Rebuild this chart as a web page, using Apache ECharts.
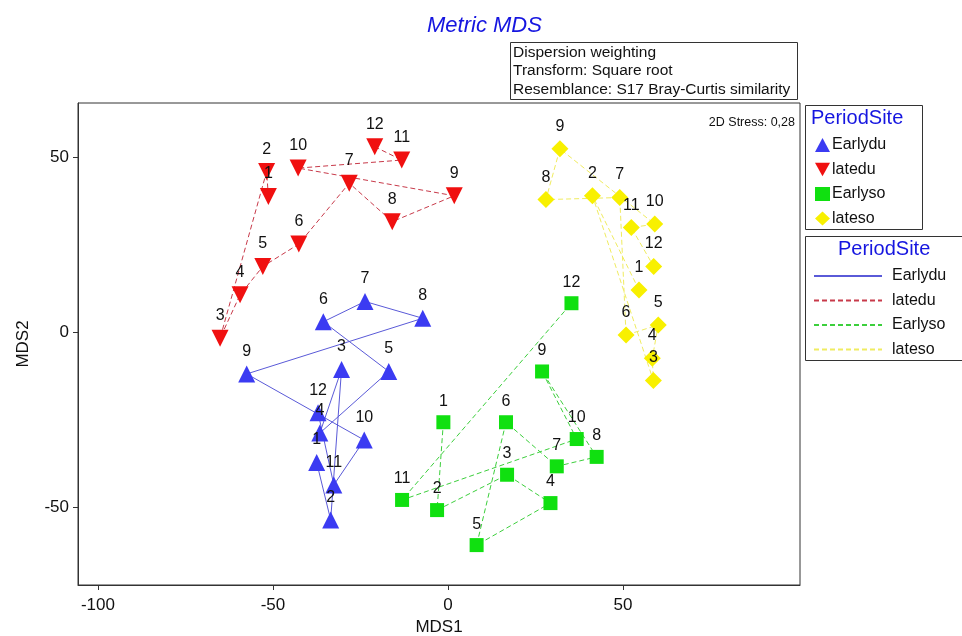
<!DOCTYPE html>
<html>
<head>
<meta charset="utf-8">
<script src="https://cdn.jsdelivr.net/npm/echarts@6/dist/echarts.min.js"></script>
<style>html,body{margin:0;padding:0;background:#fff}#c{width:962px;height:636px}</style>
</head>
<body>
<div id="c"></div>
<script>
const sampleLabels = ['1','2','3','4','5','6','7','8','9','10','11','12'];
const groupNames = ['Earlydu','latedu','Earlyso','lateso'];
const xTicks = [-100, -50, 0, 50];
const yTicks = [-50, 0, 50];

const earlyduX = [-37.5, -33.5, -30.4, -36.6, -16.9, -35.6, -23.7, -7.2, -57.5, -23.9, -32.6, -37.1];
const earlyduY = [-37.3, -53.7, -10.7, -28.9, -11.3, 2.9, 8.7, 3.9, -12.0, -30.9, -43.7, -23.1];
const lateduX = [-51.3, -51.8, -65.1, -59.4, -52.9, -42.6, -28.2, -15.9, 1.8, -42.8, -13.2, -20.9];
const lateduY = [38.7, 45.8, -1.8, 10.6, 18.7, 25.1, 42.5, 31.5, 38.9, 46.8, 49.1, 52.9];
const earlysoX = [-1.3, -3.1, 16.9, 29.3, 8.2, 16.6, 31.1, 42.5, 26.9, 36.8, -13.1, 35.3];
const earlysoY = [-25.8, -50.9, -40.8, -48.9, -60.9, -25.8, -38.4, -35.7, -11.3, -30.6, -48.0, 8.2];
const latesoX = [54.6, 41.3, 58.7, 58.4, 60.1, 50.9, 49.1, 28.0, 32.0, 59.1, 52.4, 58.8];
const latesoY = [12.0, 38.9, -13.9, -7.5, 2.0, -0.9, 38.4, 37.8, 52.3, 30.8, 29.8, 18.7];

const xs = [earlyduX, lateduX, earlysoX, latesoX];
const ys = [earlyduY, lateduY, earlysoY, latesoY];

const markerColors = ['#3b3bf2', '#f01010', '#10e010', '#f8f000'];
const lineColors = ['#5a5ad8', '#c83a4a', '#3ccf3c', '#f0ec60'];
const lineTypes = ['solid', [5, 3], [5, 3], [5, 3]];
const symbols = ['triangle', 'triangle', 'rect', 'diamond'];
const rotates = [0, 180, 0, 0];
const sizes = [17, 17, 14, 17];
const legendIcons = ['triangle', 'path://M0,0 L10,0 L5,9 Z', 'rect', 'diamond'];

function pts(g) {
  return sampleLabels.map((lab, i) => [xs[g][i], ys[g][i], lab]);
}

const FONT = 'Liberation Sans, Arial, sans-serif';
const series = [];
groupNames.forEach((name, g) => {
  series.push({
    name: name + ' ',
    type: 'line',
    data: pts(g),
    symbol: 'none',
    z: 2,
    silent: true,
    animation: false,
    lineStyle: { color: lineColors[g], width: 1, type: lineTypes[g] },
    itemStyle: { color: lineColors[g] }
  });
});
groupNames.forEach((name, g) => {
  series.push({
    name: name,
    type: 'scatter',
    data: pts(g),
    symbol: symbols[g],
    symbolRotate: rotates[g],
    symbolSize: sizes[g],
    z: 3,
    animation: false,
    itemStyle: { color: markerColors[g], opacity: 1 },
    label: {
      show: true, position: 'top', distance: 6,
      formatter: p => p.value[2],
      color: '#111', fontSize: 16, fontFamily: FONT
    }
  });
});

const chart = echarts.init(document.getElementById('c'));
chart.setOption({
  backgroundColor: '#fff',
  animation: false,
  grid: { left: 78, right: 162, top: 103, bottom: 51, outerBoundsMode: 'none', containLabel: false, show: true, borderColor: '#333', borderWidth: 1, backgroundColor: 'transparent' },
  xAxis: {
    type: 'value', min: -105.7, max: 100.6,
    name: 'MDS1', nameLocation: 'middle', nameGap: 32,
    nameTextStyle: { color: '#111', fontSize: 17, fontFamily: FONT },
    axisLine: { show: true, onZero: false, lineStyle: { color: '#333' } },
    axisTick: { show: true, length: 5, customValues: xTicks, lineStyle: { color: '#333' } },
    axisLabel: { customValues: xTicks, color: '#111', fontSize: 17, fontFamily: FONT, margin: 12 },
    splitLine: { show: false }
  },
  yAxis: {
    type: 'value', min: -72.3, max: 65.4,
    name: 'MDS2', nameLocation: 'middle', nameGap: 46, nameRotate: 90,
    nameTextStyle: { color: '#111', fontSize: 17, fontFamily: FONT },
    axisLine: { show: true, onZero: false, lineStyle: { color: '#333' } },
    axisTick: { show: true, length: 5, customValues: yTicks, lineStyle: { color: '#333' } },
    axisLabel: { customValues: yTicks, color: '#111', fontSize: 17, fontFamily: FONT, margin: 9 },
    splitLine: { show: false }
  },
  legend: [
    {
      data: groupNames.map((n, g) => ({ name: n, icon: legendIcons[g] })),
      orient: 'vertical', left: 810, top: 132, itemWidth: 15, itemHeight: 14, itemGap: 8.5,
      selectedMode: false,
      textStyle: { color: '#111', fontSize: 16, fontFamily: FONT, padding: [0, 0, 0, -3] }
    },
    {
      data: groupNames.map(n => n + ' '),
      orient: 'vertical', left: 808, top: 263, itemWidth: 68, itemHeight: 14, itemGap: 8.5,
      selectedMode: false,
      itemStyle: { opacity: 0 },
      textStyle: { color: '#111', fontSize: 16, fontFamily: FONT, padding: [0, 0, 0, 5] }
    }
  ],
  graphic: [
    { type: 'text', left: 427, top: 15, style: { text: 'Metric MDS', fill: '#1515e0', font: 'italic 22px ' + FONT } },
    { type: 'rect', shape: { x: 510.5, y: 42.5, width: 287, height: 57 }, style: { fill: '#fff', stroke: '#333', lineWidth: 1 } },
    { type: 'text', left: 513, top: 43, style: { text: 'Dispersion weighting\nTransform: Square root\nResemblance: S17 Bray-Curtis similarity', fill: '#111', font: '15.5px ' + FONT, lineHeight: 18.5 } },
    { type: 'text', right: 167, top: 116, style: { text: '2D Stress: 0,28', fill: '#111', font: '12.5px ' + FONT } },
    { type: 'rect', shape: { x: 805.5, y: 105.5, width: 117, height: 124 }, style: { fill: 'none', stroke: '#333', lineWidth: 1 } },
    { type: 'text', left: 811, top: 108, style: { text: 'PeriodSite', fill: '#1515e0', font: '20px ' + FONT } },
    { type: 'rect', shape: { x: 805.5, y: 236.5, width: 160, height: 124 }, style: { fill: 'none', stroke: '#333', lineWidth: 1 } },
    { type: 'text', left: 838, top: 239, style: { text: 'PeriodSite', fill: '#1515e0', font: '20px ' + FONT } }
  ],
  series: series
});
</script>
</body>
</html>
